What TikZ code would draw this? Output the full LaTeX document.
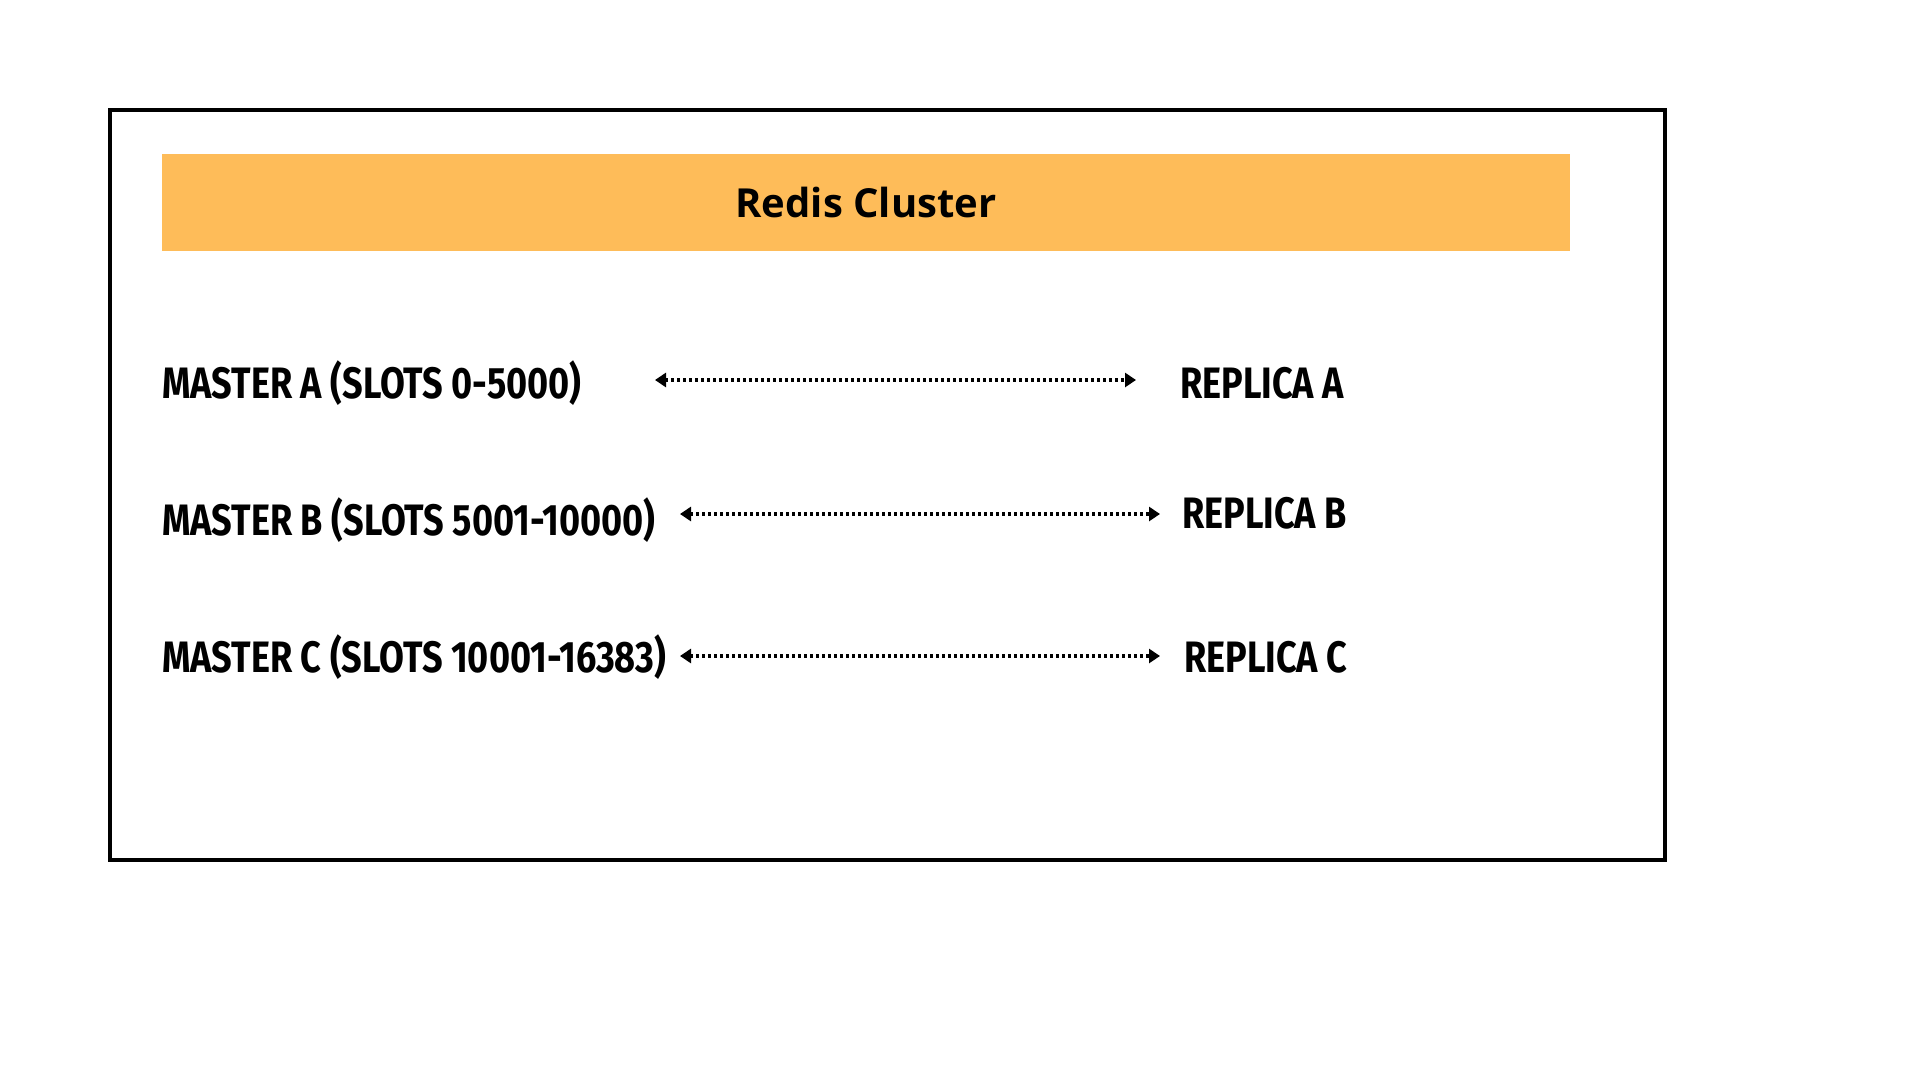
\documentclass[tikz,border=0pt]{standalone}
\usepackage{fontspec}
\usetikzlibrary{arrows.meta}
\setmainfont{Open Sans}
\newfontfamily\brushfont{Fira Sans}[FakeStretch=0.82]
\definecolor{barorange}{HTML}{FEBC59}
\tikzset{
  banner/.style={fill=barorange, minimum width=1408pt, minimum height=97pt,
    inner sep=0pt, font=\bfseries\fontsize{40}{40}\selectfont},
  role/.style={font=\brushfont\bfseries\fontsize{44}{44}\selectfont,
    inner sep=0pt, anchor=base west},
  sync/.style={{Triangle[length=11pt,width=14pt]}-{Triangle[length=11pt,width=14pt]},
    line width=4pt, dash pattern=on 3pt off 3pt}
}
\begin{document}
\begin{tikzpicture}[x=1pt,y=-1pt]
  \useasboundingbox (0,0) rectangle (1920,1080);
  \draw[line width=4pt] (110,110) rectangle (1665,860);
  \node[banner] (cluster) at (866,202.5) {Redis Cluster};
  % masters
  \node[role] (ma) at (162,398) {MASTER A (SLOTS 0-5000)};
  \node[role] (mb) at (162,535) {MASTER B (SLOTS 5001-10000)};
  \node[role] (mc) at (162,672) {MASTER C (SLOTS 10001-16383)};
  % replicas
  \node[role] (ra) at (1180,398) {REPLICA A};
  \node[role] (rb) at (1182,528) {REPLICA B};
  \node[role] (rc) at (1184,672) {REPLICA C};
  % replication links
  \coordinate (la) at (655,380);
  \coordinate (lb) at (680,514);
  \coordinate (lc) at (680,656);
  \draw[sync] (la) -- ++(481,0);
  \draw[sync] (lb) -- ++(480,0);
  \draw[sync] (lc) -- ++(480,0);
\end{tikzpicture}
\end{document}
